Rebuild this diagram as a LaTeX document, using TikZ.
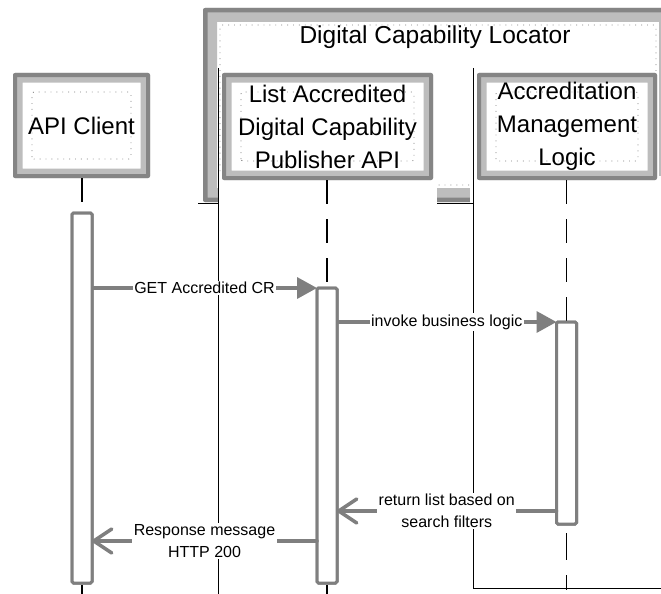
\documentclass[tikz,border=0pt]{standalone}
\usepackage{fontspec}
\setmainfont{Liberation Sans}
\usetikzlibrary{arrows.meta,calc}
\definecolor{banddark}{HTML}{858585}
\definecolor{bandlight}{HTML}{BDBDBD}
\definecolor{msggray}{HTML}{7F7F7F}
\begin{document}
\begin{tikzpicture}[x=1pt,y=-1pt,
  every node/.style={inner sep=0pt,outer sep=0pt},
  lane/.style={black,line width=1pt},
  shadebox/.style n args={3}{rectangle,fill=white,rounded corners=2pt,
    path picture={
      \draw[line width=#2,draw=bandlight] (path picture bounding box.south west) rectangle (path picture bounding box.north east);
      \draw[line width=#3,draw=banddark] (path picture bounding box.south west) rectangle (path picture bounding box.north east);
      \draw[draw=gray,line width=0.9pt,dash pattern=on 0.9pt off 5pt] ($(path picture bounding box.south west)+(#1,-#1)$) rectangle ($(path picture bounding box.north east)+(-#1,#1)$);
    }},
  partbox/.style={shadebox={19}{19pt}{8pt},align=center,font=\fontsize{24}{33}\selectfont},
  bar/.style={rectangle,draw=msggray,line width=3pt,fill=white,rounded corners=1.5pt,minimum width=20pt},
  lifeline/.style={black,line width=1.8pt,dash pattern=on 24pt off 15pt},
  msg/.style={draw=msggray,line width=3.5pt,-{Triangle[length=20pt,width=21pt]}},
  ret/.style={draw=msggray,line width=3.5pt,line cap=round,-{Straight Barb[length=18pt,width=24pt,round]}},
  lbl/.style={fill=white,inner sep=1.5pt,align=center,font=\fontsize{16}{22}\selectfont}]

\clip (0,0) rectangle (661,594);
\fill[white] (0,0) rectangle (661,594);

% outer frame: Digital Capability Locator
\node[shadebox={17}{28pt}{9pt},minimum width=470pt,minimum height=194pt] (dcl) at (438,105) {};
\fill[white] (217.5,176) rectangle (437,205);
\fill[white] (470,176) rectangle (675,205);
\node[font=\fontsize{24.5}{30}\selectfont] (dcltitle) at (435,37) {Digital Capability Locator};

% lane lines
\draw[lane] (218,68) -- (218,594);
\draw[lane] (198,203) -- (218,203);
\draw[lane] (473,68) -- (473,588) -- (661,588);
\draw[lane] (437,203) -- (473,203);

% participants
\node[partbox,minimum width=137pt,minimum height=105pt] (api) at (81.5,125.5) {API Client};
\node[partbox,minimum width=211pt,minimum height=107pt] (pub) at (327.5,126.5) {List Accredited\\Digital Capability\\Publisher API};
\node[partbox,minimum width=180pt,minimum height=107pt] (logic) at (567,126.5) {Accreditation\\Management\\Logic};

% activation bars (positions)
\node[bar,minimum height=370pt] (apibar) at (82,398) {};
\node[bar,minimum height=295pt] (pubbar) at (327,435.5) {};
\node[bar,minimum height=202pt] (logicbar) at (566.5,423) {};

\coordinate (bottom) at (0,594);
\coordinate (logicend) at (0,590);

% lifelines
\draw[lifeline] (apibar.north |- api.south) -- (apibar.north);
\draw[lifeline] (pubbar.north |- pub.south) -- (pubbar.north);
\draw[lifeline] (logicbar.north |- logic.south) -- (logicbar.north);
\draw[lifeline,dash pattern=on 0pt off 2pt on 15pt] (apibar.south) -- (apibar.south |- bottom);
\draw[lifeline,dash pattern=on 0pt off 2pt on 15pt] (pubbar.south) -- (pubbar.south |- bottom);
\draw[lifeline,dash pattern=on 0pt off 9pt on 27pt off 15pt on 15pt off 100pt] (logicbar.south) -- (logicbar.south |- logicend);

% redraw bars over lifelines
\node[bar,minimum height=370pt] at (apibar) {};
\node[bar,minimum height=295pt] at (pubbar) {};
\node[bar,minimum height=202pt] at (logicbar) {};

% messages
\coordinate (retY) at (0,511);
\coordinate (respY) at (0,541);
\draw[msg] (apibar.east |- pubbar.north) -- (pubbar.north west)
  node[lbl,midway] (m1) {GET Accredited CR};
\draw[msg] (pubbar.east |- logicbar.north) -- (logicbar.north west)
  node[lbl,midway] (m2) {invoke business logic};
\draw[ret] (logicbar.west |- retY) -- (pubbar.east |- retY)
  node[lbl,midway] (m3) {return list based on\\search filters};
\draw[ret] (pubbar.west |- respY) -- (apibar.east |- respY)
  node[lbl,midway] (m4) {Response message\\HTTP 200};
\end{tikzpicture}
\end{document}
